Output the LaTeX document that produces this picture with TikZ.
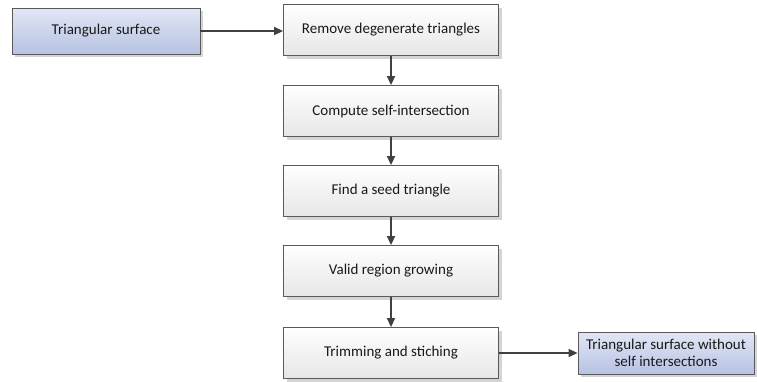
\documentclass[tikz,border=0pt]{standalone}
\usepackage{fontspec}
\setmainfont{Carlito}
\usetikzlibrary{arrows.meta,shadows}

\definecolor{edgegray}{HTML}{5A5A5A}
\definecolor{arrowgray}{HTML}{404040}
\definecolor{procTop}{HTML}{FFFFFF}
\definecolor{procBot}{HTML}{E6E6E6}
\definecolor{ioTop}{HTML}{E2E7F6}
\definecolor{ioBot}{HTML}{B7C2E2}
\definecolor{shadowgray}{HTML}{D4D4D4}

\tikzset{
  box/.style={draw=edgegray, line width=0.8pt, align=center, inner sep=0pt,
    font=\fontsize{15}{17}\selectfont, text=black!90,
    drop shadow={shadow xshift=3pt, shadow yshift=-3pt, fill=shadowgray, opacity=1}},
  procbox/.style={box, minimum width=215pt, minimum height=51pt,
    top color=procTop, bottom color=procBot},
  iobox/.style={box, top color=ioTop, bottom color=ioBot},
  flow/.style={draw=arrowgray, line width=1.4pt,
    -{Triangle[length=9pt,width=8pt]}}
}

\begin{document}
\begin{tikzpicture}[x=1pt, y=-1pt]
  \useasboundingbox (0,0) rectangle (757,381);

  \node[iobox, minimum width=188pt, minimum height=46pt] (input) at (106,31) {Triangular surface};

  \node[procbox] (remove)  at (391,30)  {Remove degenerate triangles};
  \node[procbox] (compute) at (391,111) {Compute self-intersection};
  \node[procbox] (seed)    at (391,191) {Find a seed triangle};
  \node[procbox] (grow)    at (391,271) {Valid region growing};
  \node[procbox] (trim)    at (391,353) {Trimming and stiching};

  \node[iobox, minimum width=176pt, minimum height=42pt] (output) at (666,353)
    {Triangular surface without\\self intersections};

  \draw[flow] (input.east) -- (input.east -| remove.west);
  \draw[flow] (remove)  -- (compute);
  \draw[flow] (compute) -- (seed);
  \draw[flow] (seed)    -- (grow);
  \draw[flow] (grow)    -- (trim);
  \draw[flow] (trim)    -- (output);
\end{tikzpicture}
\end{document}
